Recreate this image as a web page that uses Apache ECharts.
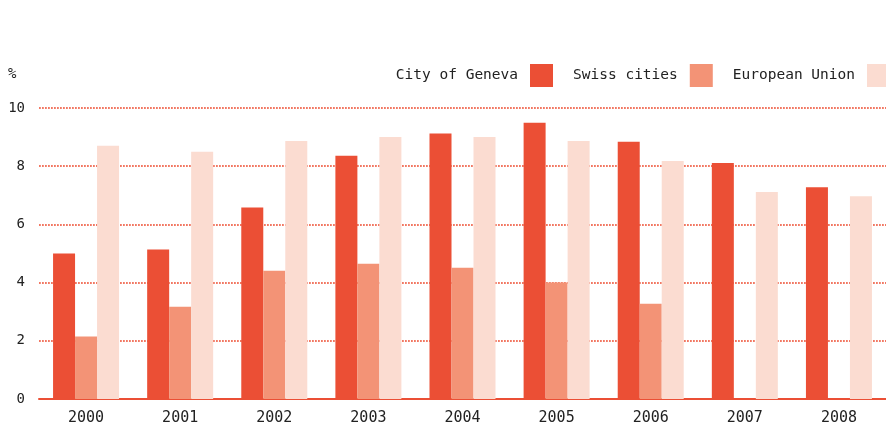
<!DOCTYPE html>
<html>
<head>
<meta charset="utf-8">
<script src="https://cdn.jsdelivr.net/npm/echarts@6/dist/echarts.min.js"></script>
<style>
  html, body { margin: 0; padding: 0; background: #fff; }
  #chart { width: 886px; height: 428px; }
</style>
</head>
<body>
<div id="chart"></div>
<script>
const years = ["2000", "2001", "2002", "2003", "2004", "2005", "2006", "2007", "2008"];
const geneva = [5.0, 5.14, 6.58, 8.36, 9.12, 9.49, 8.84, 8.11, 7.28];
const swissCities = [2.15, 3.17, 4.41, 4.65, 4.51, 4.0, 3.27, null, null];
const europeanUnion = [8.7, 8.5, 8.87, 9.0, 9.0, 8.87, 8.18, 7.11, 6.97];

const font = "DejaVu Sans Mono";
const chart = echarts.init(document.getElementById("chart"));

const option = {
  animation: false,
  title: {
    text: "%",
    left: 8,
    top: 67,
    padding: 0,
    textStyle: { fontFamily: font, fontSize: 14, fontWeight: "normal", color: "#222" },
  },
  legend: {
    right: -4,
    top: 64,
    padding: 0,
    align: "right",
    itemWidth: 23,
    itemHeight: 23,
    itemGap: 20,
    icon: "rect",
    textStyle: { fontFamily: font, fontSize: 14.5, color: "#222", padding: [0, 7, 0, 0] },
  },
  grid: { left: 39, right: 0, top: 108, bottom: 29 },
  xAxis: {
    type: "category",
    data: years,
    axisLine: { lineStyle: { color: "#eb4f35", width: 2 } },
    axisTick: { show: false },
    axisLabel: { fontFamily: font, fontSize: 15, color: "#222", margin: 12 },
  },
  yAxis: {
    type: "value",
    min: 0,
    max: 10,
    interval: 2,
    axisLine: { show: false },
    axisTick: { show: false },
    axisLabel: { fontFamily: font, fontSize: 14, color: "#222", margin: 14 },
    splitLine: { lineStyle: { color: "#f27863", width: 1.8, type: [1.8, 1.2] } },
  },
  series: [
    {
      name: "City of Geneva",
      type: "bar",
      data: geneva,
      barWidth: 22,
      barGap: "0%",
      itemStyle: { color: "#eb4f35" },
    },
    {
      name: "Swiss cities",
      type: "bar",
      data: swissCities,
      barWidth: 22,
      barGap: "0%",
      itemStyle: { color: "#f39376" },
    },
    {
      name: "European Union",
      type: "bar",
      data: europeanUnion,
      barWidth: 22,
      barGap: "0%",
      itemStyle: { color: "#fbdcd1" },
    },
  ],
};

chart.setOption(option);
</script>
</body>
</html>
